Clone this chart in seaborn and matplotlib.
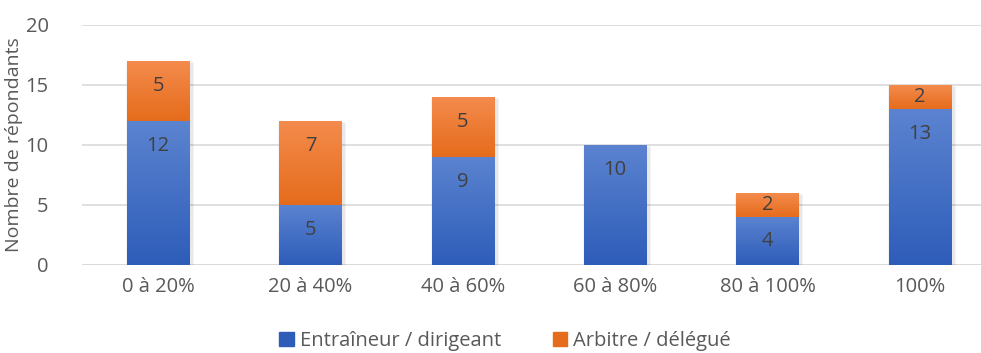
import numpy as np
import pandas as pd
import matplotlib
matplotlib.use("Agg")
import matplotlib.pyplot as plt
import matplotlib.colors as mcolors
import seaborn as sns

categories = ["0 à 20%", "20 à 40%", "40 à 60%", "60 à 80%", "80 à 100%", "100%"]
entraineur = [12, 5, 9, 10, 4, 13]
arbitre = [5, 7, 5, 0, 2, 2]
series_names = ["Entraîneur / dirigeant", "Arbitre / délégué"]
y_label = "Nombre de répondants"

blue_top, blue_bot = "#5B83D0", "#2E5DB9"
orange_top, orange_bot = "#F48B4C", "#E56C1C"
text_color = "#595959"
grid_color = "#D9D9D9"

sns.set_theme(style="white")
plt.rcParams["font.family"] = ["Open Sans", "DejaVu Sans"]

df = pd.DataFrame({"cat": categories, "e": entraineur, "a": arbitre})
df["total"] = df["e"] + df["a"]

fig = plt.figure(figsize=(9.81, 3.53), dpi=100)
ax = fig.add_axes([82 / 981, 1 - 265 / 353, 914 / 981, 240 / 353])

width = 0.41
sns.barplot(data=df, x="cat", y="total", color=orange_bot, width=width,
            saturation=1, ax=ax, zorder=2)
n_top = len(ax.patches)
sns.barplot(data=df, x="cat", y="e", color=blue_bot, width=width,
            saturation=1, ax=ax, zorder=3)
top_patches = ax.patches[:n_top]
bot_patches = ax.patches[n_top:]


def gradient_fill(patch, c_top, c_bot, z):
    x0, y0 = patch.get_x(), patch.get_y()
    w, h = patch.get_width(), patch.get_height()
    if h <= 0:
        patch.set_visible(False)
        return
    cmap = mcolors.LinearSegmentedColormap.from_list("g", [c_bot, c_top])
    grad = np.linspace(0, 1, 64).reshape(-1, 1)
    im = ax.imshow(grad, cmap=cmap, aspect="auto", origin="lower",
                   extent=[x0, x0 + w, y0, y0 + h], zorder=z)
    im.set_clip_path(patch)
    patch.set_facecolor("none")
    patch.set_edgecolor("none")


# soft shadow behind each stack
for p in top_patches:
    x0, w, h = p.get_x(), p.get_width(), p.get_height()
    ax.bar(x0 + w / 2 + 0.008, h + 0.1, width=w + 0.03, bottom=-0.15,
           color="#000000", alpha=0.09, zorder=1.5)

# orange segment sits above the blue one
for p, e, a in zip(top_patches, entraineur, arbitre):
    p.set_y(e)
    p.set_height(a)
    gradient_fill(p, orange_top, orange_bot, 2)
for p in bot_patches:
    gradient_fill(p, blue_top, blue_bot, 3)

# value labels, near the top of each segment
for i, (e, a) in enumerate(zip(entraineur, arbitre)):
    for bottom, val in ((0, e), (e, a)):
        if val <= 0:
            continue
        top = bottom + val
        y = top - min(2.1, val / 2)
        ax.text(i, y, str(val), ha="center", va="center", fontsize=14.5,
                color="#404040", zorder=5)

ax.set_ylim(0, 20)
ax.set_xlim(-0.5, 5.5)
ax.set_yticks([0, 5, 10, 15, 20])
ax.yaxis.grid(True, color=grid_color, linewidth=1.2, zorder=0)
ax.set_axisbelow(True)
for s in ax.spines.values():
    s.set_visible(False)
ax.axhline(0, color=grid_color, linewidth=1.2, zorder=1)
ax.tick_params(axis="both", length=0, labelsize=14.5, colors=text_color)
ax.tick_params(axis="x", pad=9)
ax.tick_params(axis="y", pad=24)
ax.set_xlabel("")
ax.set_ylabel(y_label, fontsize=14, color=text_color, labelpad=2)

handles = [plt.Rectangle((0, 0), 1, 1, color=blue_bot),
           plt.Rectangle((0, 0), 1, 1, color=orange_bot)]
fig.legend(handles, series_names, loc="lower center", ncol=2, frameon=False,
           bbox_to_anchor=(0.515, -0.045), fontsize=14.5, handlelength=0.7,
           handleheight=0.7, handletextpad=0.3, columnspacing=2.6,
           labelcolor=text_color)

fig.savefig("out.png", dpi=100)
